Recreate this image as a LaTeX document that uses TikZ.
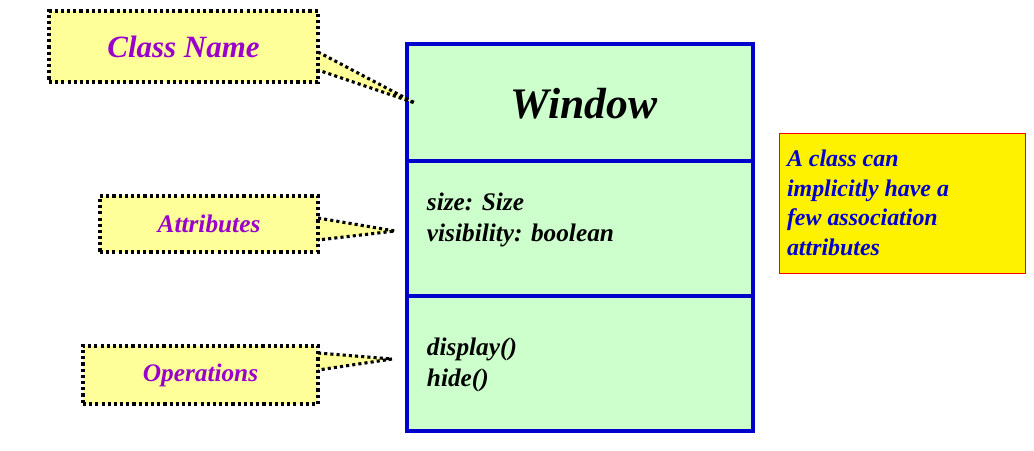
\documentclass[tikz,border=0pt]{standalone}
\usepackage{fontspec}
\setmainfont{Liberation Serif}
\definecolor{classGreen}{RGB}{204, 255, 204}
\definecolor{classBlue}{RGB}{0, 0, 204}
\definecolor{calloutYellow}{RGB}{255, 255, 153}
\definecolor{labelPurple}{RGB}{153, 0, 204}

\begin{document}
\begin{tikzpicture}[x=0.025cm, y=-0.025cm]
            \tikzstyle{callout} = [draw=black, fill=calloutYellow, dash pattern=on 2.2pt off 2.2pt, line width=2.2pt, inner sep=0pt, text=labelPurple, font=\fontsize{18}{20}\selectfont\bfseries\itshape]
            \tikzstyle{pointer} = [fill=calloutYellow, draw=black, dash pattern=on 2.2pt off 2.2pt, line width=2.2pt]
            \tikzstyle{part} = [draw=classBlue, fill=classGreen, line width=2.2pt]
            \tikzstyle{member} = [anchor=west, align=left, font=\fontsize{18}{22}\selectfont\bfseries\itshape]
            \useasboundingbox (0,0) rectangle (1034,450);

            % Class box
            \draw[part] (407,44) rectangle (753,161);
            \draw[part] (407,161) rectangle (753,296);
            \draw[part] (407,296) rectangle (753,431);
            \node[font=\fontsize{31}{34}\selectfont\bfseries\itshape] (name) at (584,104) {Window};
            \node[member] (attrs) at (422,220) {size: Size\\visibility: boolean};
            \node[member] (ops) at (422,365) {display()\\hide()};

            % Callouts
            \coordinate (tipN) at (415,103);
            \coordinate (tipA) at (395,231);
            \coordinate (tipO) at (392,359);
            \draw[pointer] (318,52) -- (tipN) -- (318,70);
            \draw[pointer] (318,218) -- (tipA) -- (318,240);
            \draw[pointer] (318,353) -- (tipO) -- (318,370);
            \node[callout, minimum width=269*0.025cm, minimum height=71*0.025cm, font=\fontsize{22}{24}\selectfont\bfseries\itshape] (cname) at (183.5,46.5) {Class Name};
            \node[callout, minimum width=218*0.025cm, minimum height=56*0.025cm] (cattr) at (209,224) {Attributes};
            \node[callout, minimum width=235*0.025cm, minimum height=58*0.025cm] (cops) at (200.5,375) {Operations};

            % Note
            \node[draw=red, fill=yellow, line width=0.6pt, minimum width=246*0.025cm, minimum height=140*0.025cm, text=classBlue, align=flush left, font=\fontsize{17}{21}\selectfont\bfseries\itshape, text width=230*0.025cm] (note) at (902,203) {A class can\\implicitly have a\\few association\\attributes};
        \end{tikzpicture}
\end{document}
